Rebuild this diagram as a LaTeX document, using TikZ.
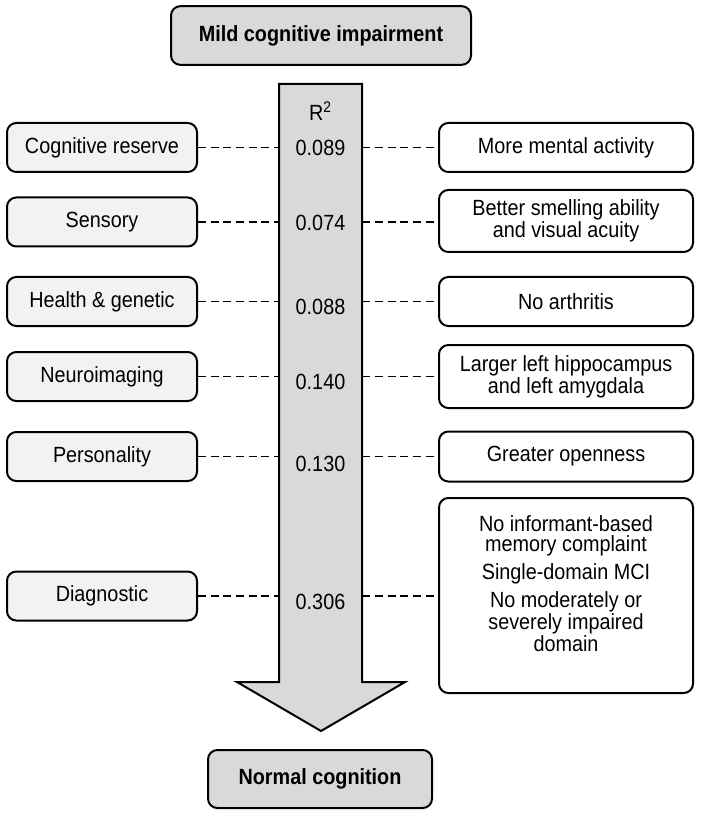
\documentclass[tikz,border=0pt]{standalone}
\usepackage{fontspec}
\setmainfont{Liberation Sans}[FakeStretch=0.9]
\usetikzlibrary{positioning}

\definecolor{stagegray}{HTML}{D9D9D9}
\definecolor{factorgray}{HTML}{F2F2F2}

\tikzset{
  stage/.style={draw, line width=1.5pt, rounded corners=7pt, fill=stagegray, inner sep=0pt,
    font=\fontsize{16.5}{18}\selectfont\bfseries},
  factor/.style={draw, line width=1.5pt, rounded corners=7pt, fill=factorgray, inner sep=0pt,
    minimum width=142.5pt, minimum height=36.75pt, font=\fontsize{16.5}{18}\selectfont},
  finding/.style={draw, line width=1.5pt, rounded corners=7pt, fill=white, inner sep=0pt,
    minimum width=190.5pt, align=center, font=\fontsize{16.5}{15}\selectfont},
  rsq/.style={minimum width=62.25pt, inner sep=0pt, font=\fontsize{16.5}{18}\selectfont},
  link/.style={line width=1.3pt, dash pattern=on 6pt off 3.5pt},
}

\begin{document}
\begin{tikzpicture}[x=0.75pt, y=-0.75pt]
\useasboundingbox (0,0) rectangle (700,816);

% Big arrow %
\draw[line width=1.5pt, fill=stagegray] (279,84) -- (362,84) -- (362,682) -- (405,682)
  -- (321,731) -- (237,682) -- (279,682) -- cycle;

% Stages %
\node[stage, minimum width=225pt, minimum height=44pt] (mci) at (321,35.5) {Mild cognitive impairment};
\node[stage, minimum width=168pt, minimum height=43.5pt] (normal) at (320,779) {Normal cognition};

% Domains %
\node[factor] (cogres) at (102,147.5) {Cognitive reserve};
\node[factor] (sensory) at (102,222) {Sensory};
\node[factor] (health) at (102,301.5) {Health \& genetic};
\node[factor] (neuro) at (102,376.5) {Neuroimaging};
\node[factor] (person) at (102,456.5) {Personality};
\node[factor] (diag) at (102,596) {Diagnostic};

% R squared %
\node[rsq] (r2) at (320.5,111) {R\textsuperscript{2}};
\node[rsq] (vcogres) at (320.5,148) {0.089};
\node[rsq] (vsensory) at (320.5,223) {0.074};
\node[rsq] (vhealth) at (320.5,307) {0.088};
\node[rsq] (vneuro) at (320.5,382) {0.140};
\node[rsq] (vperson) at (320.5,464) {0.130};
\node[rsq] (vdiag) at (320.5,602) {0.306};

% Predictors %
\node[finding, minimum height=36.75pt] (mental) at (566,147.5) {More mental activity};
\node[finding, minimum height=46.5pt] (smell) at (566,221) {Better smelling ability\\and visual acuity};
\node[finding, minimum height=36.75pt] (arthr) at (566,301.5) {No arthritis};
\node[finding, minimum height=47.25pt] (hippo) at (566,376.5) {Larger left hippocampus\\and left amygdala};
\node[finding, minimum height=37.5pt] (open) at (566,456.5) {Greater openness};
\node[finding, minimum height=146.25pt,
  label={[yshift=9pt, align=center, font=\fontsize{16.5}{15}\selectfont]center:No informant-based\\memory complaint\\[4.5pt]Single-domain MCI\\[4.5pt]No moderately or\\severely impaired\\domain}]
  (diagr) at (566,595.5) {};

% Edges %
\draw[link] (cogres) -- (cogres -| vcogres.west);
\draw[link] (sensory) -- (sensory -| vsensory.west);
\draw[link] (health) -- (health -| vhealth.west);
\draw[link] (neuro) -- (neuro -| vneuro.west);
\draw[link] (person) -- (person -| vperson.west);
\draw[link] (diag) -- (diag -| vdiag.west);

\draw[link] (vcogres.east |- cogres) -- (mental.west |- cogres);
\draw[link] (vsensory.east |- sensory) -- (smell.west |- sensory);
\draw[link] (vhealth.east |- health) -- (arthr.west |- health);
\draw[link] (vneuro.east |- neuro) -- (hippo.west |- neuro);
\draw[link] (vperson.east |- person) -- (open.west |- person);
\draw[link] (vdiag.east |- diag) -- (diagr.west |- diag);

\end{tikzpicture}
\end{document}
